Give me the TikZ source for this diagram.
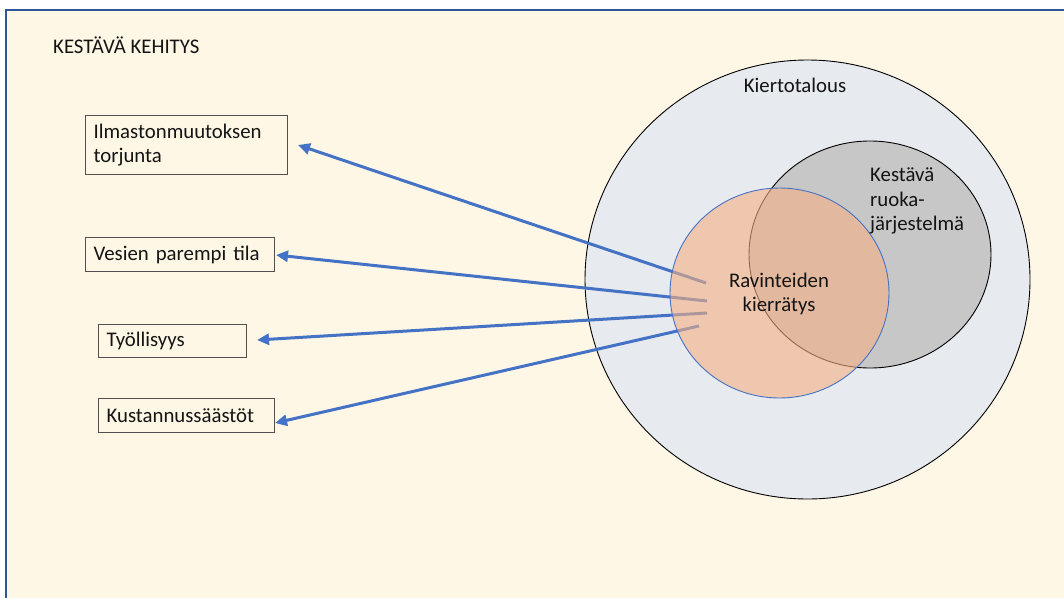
\documentclass[tikz,border=0pt]{standalone}
\usepackage{fontspec}
\setmainfont{Carlito}
\usetikzlibrary{arrows.meta}
\definecolor{cream}{RGB}{255,247,230}
\definecolor{framebl}{RGB}{47,85,151}
\definecolor{outerc}{RGB}{231,234,239}
\definecolor{grayc}{RGB}{199,199,199}
\definecolor{orangec}{RGB}{244,177,131}
\definecolor{arrbl}{RGB}{68,114,196}
\definecolor{boxline}{RGB}{80,80,80}
\definecolor{txt}{RGB}{20,20,20}
\begin{document}
\begin{tikzpicture}[x=1pt,y=-1pt,
  every node/.style={font=\fontsize{20.8}{24.5}\selectfont,text=txt},
  box/.style={draw=boxline,line width=1.2pt,fill=cream,anchor=north west,inner xsep=8pt,inner ysep=0pt,align=left},
  arr/.style={draw=arrbl,line width=3pt,-{Triangle[length=12pt,width=11pt]}},
  lbl/.style={inner sep=0pt}]
\useasboundingbox (0,0) rectangle (1064,597);
\fill[white] (0,0) rectangle (1064,597);
% frame
\fill[cream] (6,10) rectangle (1070,610);
\draw[framebl,line width=1.4pt] (6,610) -- (6,10) -- (1070,10);
\node[lbl,anchor=west] (title) at (53,45) {KESTÄVÄ KEHITYS};
% circles
\draw[fill=outerc,line width=0.9pt] (807.5,279.5) ellipse [x radius=222.5, y radius=219.5];
\node[lbl] (kt) at (795,85) {Kiertotalous};
\draw[fill=grayc,line width=0.9pt] (870,254.5) ellipse [x radius=121, y radius=113.5];
% boxes
\node[box,text width=186pt,minimum height=59pt] (b1) at (85,115) {Ilmastonmuutoksen\\torjunta};
\node[box,text width=173pt,minimum height=34pt] (b2) at (85,237) {Vesien parempi tila};
\node[box,text width=132pt,minimum height=33pt] (b3) at (98,324) {Työllisyys};
\node[box,text width=160pt,minimum height=34pt] (b4) at (98,398) {Kustannussäästöt};
% arrow endpoints
\coordinate (s1) at (706,283);
\coordinate (s2) at (707,301);
\coordinate (s3) at (707,313);
\coordinate (s4) at (699,326);
\coordinate (t1) at (298,145);
\coordinate (t2) at (276,255);
\coordinate (t3) at (257,340);
\coordinate (t4) at (275,423);
\draw[arr] (s1) -- (t1);
\draw[arr] (s2) -- (t2);
\draw[arr] (s3) -- (t3);
\draw[arr] (s4) -- (t4);
% orange ellipse
\fill[orangec,fill opacity=0.6] (779.5,293) ellipse [x radius=109.5, y radius=105];
\draw[arrbl,line width=0.9pt] (779.5,293) ellipse [x radius=109.5, y radius=105];
\node[lbl,anchor=west,align=left] (kr) at (870,201) {Kestävä\\ruoka-\\järjestelmä};
\node[lbl,align=center] (rk) at (779,294) {Ravinteiden\\kierrätys};
\end{tikzpicture}
\end{document}
